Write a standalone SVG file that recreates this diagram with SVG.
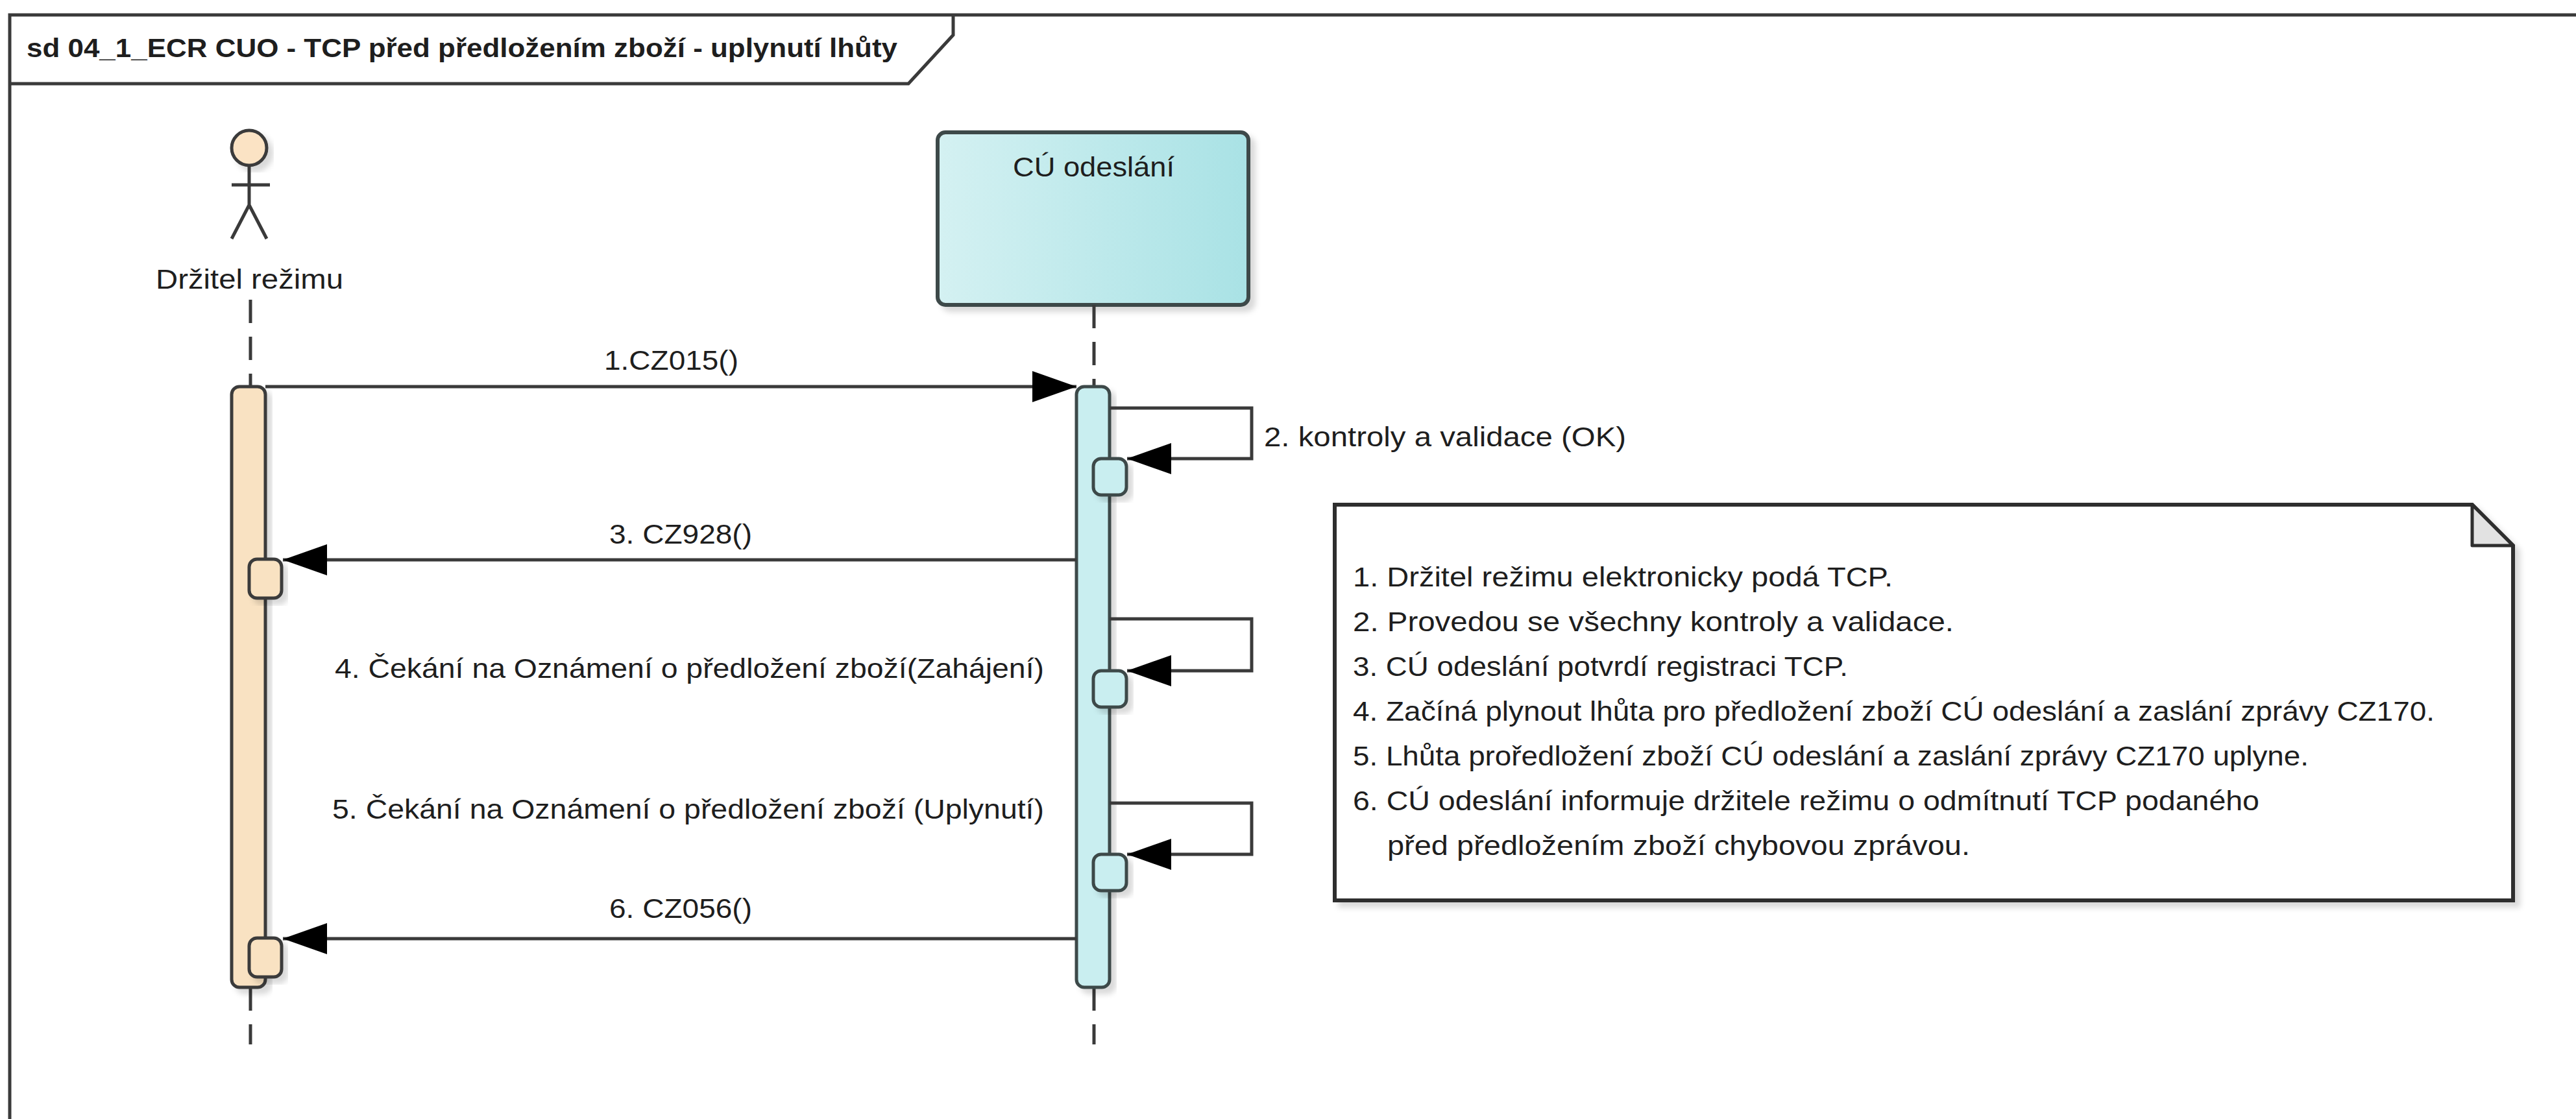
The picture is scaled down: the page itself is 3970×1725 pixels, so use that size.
<svg xmlns="http://www.w3.org/2000/svg" width="3970" height="1725" viewBox="0 0 3970 1725">
<style>
.t{font-family:"Liberation Sans",Arial,sans-serif;font-size:42px;fill:#1e1e1e}
.tb{font-family:"Liberation Sans",Arial,sans-serif;font-size:40px;font-weight:bold;fill:#1e1e1e}
.ln{stroke:#3a3a3a;stroke-width:5;fill:none}
.life{stroke:#3a3a3a;stroke-width:5;stroke-dasharray:36 21;fill:none}
.actf{fill:#F9E2C2;stroke:#3a3a3a;stroke-width:5}
.cuf{fill:#C9EEF0;stroke:#3e4a4a;stroke-width:5}
</style>
<defs>
<linearGradient id="cug" x1="0" y1="0" x2="1" y2="0">
<stop offset="0" stop-color="#D4F1F2"/>
<stop offset="1" stop-color="#A9E2E5"/>
</linearGradient>
<filter id="sh" x="-10%" y="-10%" width="130%" height="130%">
<feDropShadow dx="8" dy="8" stdDeviation="4" flood-color="#000" flood-opacity="0.15"/>
</filter>
<marker id="ah" markerUnits="userSpaceOnUse" markerWidth="70" markerHeight="50" refX="68" refY="24" orient="auto">
<path d="M0,0 L68,24 L0,48 z" fill="#000"/>
</marker>
</defs>
<rect width="3970" height="1725" fill="#fff"/>

<g id="frame">
<rect x="15" y="23" width="4000" height="1800" fill="none" stroke="#3a3a3a" stroke-width="5"/>
<path d="M15,129 L1400,129 L1469,54 L1469,23" class="ln" stroke-width="6"/>
<text class="tb" x="41" y="88" textLength="1342" lengthAdjust="spacingAndGlyphs">sd 04_1_ECR CUO - TCP před předložením zboží - uplynutí lhůty</text>
</g>

<g id="actor-drzitel">
<circle cx="384" cy="228" r="27" fill="#FBE3C4" stroke="#3a3a3a" stroke-width="5" filter="url(#sh)"/>
<path d="M384,255 V316 M357,285 H416 M357,368 L384,316 L411,368" class="ln" stroke-width="5"/>
<text class="t" x="240" y="445" textLength="289" lengthAdjust="spacingAndGlyphs">Držitel režimu</text>
<path d="M386,462 V596 M386,1522 V1610" class="life"/>
<rect x="357" y="596" width="52" height="926" rx="12" class="actf" filter="url(#sh)"/>
<rect x="384" y="862" width="50" height="60" rx="12" class="actf" filter="url(#sh)"/>
<rect x="384" y="1446" width="50" height="60" rx="12" class="actf" filter="url(#sh)"/>
</g>

<g id="lifeline-cu-odeslani">
<rect x="1445" y="204" width="479" height="266" rx="12" fill="url(#cug)" stroke="#3e4a4a" stroke-width="6" filter="url(#sh)"/>
<text class="t" x="1561" y="272" textLength="249" lengthAdjust="spacingAndGlyphs">CÚ odeslání</text>
<path d="M1686,470 V596 M1686,1522 V1610" class="life"/>
<rect x="1659" y="596" width="51" height="926" rx="12" class="cuf" filter="url(#sh)"/>
<rect x="1685" y="707" width="51" height="56" rx="12" class="cuf" filter="url(#sh)"/>
<rect x="1685" y="1034" width="51" height="56" rx="12" class="cuf" filter="url(#sh)"/>
<rect x="1685" y="1317" width="51" height="56" rx="12" class="cuf" filter="url(#sh)"/>
</g>

<g id="connectors">
<path d="M409,596 H1659" class="ln" marker-end="url(#ah)"/>
<text class="t" x="931" y="570" textLength="207" lengthAdjust="spacingAndGlyphs">1.CZ015()</text>
<path d="M1710,629 H1929 V707 H1737" class="ln" marker-end="url(#ah)"/>
<text class="t" x="1948" y="688" textLength="558" lengthAdjust="spacingAndGlyphs">2. kontroly a validace (OK)</text>
<path d="M1659,863 H436" class="ln" marker-end="url(#ah)"/>
<text class="t" x="939" y="838" textLength="220" lengthAdjust="spacingAndGlyphs">3. CZ928()</text>
<path d="M1710,954 H1929 V1034 H1737" class="ln" marker-end="url(#ah)"/>
<text class="t" x="516" y="1045" textLength="1093" lengthAdjust="spacingAndGlyphs">4. Čekání na Oznámení o předložení zboží(Zahájení)</text>
<path d="M1710,1238 H1929 V1317 H1737" class="ln" marker-end="url(#ah)"/>
<text class="t" x="512" y="1262" textLength="1097" lengthAdjust="spacingAndGlyphs">5. Čekání na Oznámení o předložení zboží (Uplynutí)</text>
<path d="M1659,1447 H436" class="ln" marker-end="url(#ah)"/>
<text class="t" x="939" y="1415" textLength="220" lengthAdjust="spacingAndGlyphs">6. CZ056()</text>
</g>

<g id="note">
<path d="M2057,778 H3810 L3873,841 V1388 H2057 Z" fill="#fff" stroke="#2e2e2e" stroke-width="6" filter="url(#sh)"/>
<path d="M3810,778 V841 H3873 Z" fill="#e2e2e2" stroke="#2e2e2e" stroke-width="5" stroke-linejoin="round"/>
<text class="t" x="2085" y="904" textLength="832" lengthAdjust="spacingAndGlyphs">1. Držitel režimu elektronicky podá TCP.</text>
<text class="t" x="2085" y="973" textLength="926" lengthAdjust="spacingAndGlyphs">2. Provedou se všechny kontroly a validace.</text>
<text class="t" x="2085" y="1042" textLength="763" lengthAdjust="spacingAndGlyphs">3. CÚ odeslání potvrdí registraci TCP.</text>
<text class="t" x="2085" y="1111" textLength="1667" lengthAdjust="spacingAndGlyphs">4. Začíná plynout lhůta pro předložení zboží CÚ odeslání a zaslání zprávy CZ170.</text>
<text class="t" x="2085" y="1180" textLength="1473" lengthAdjust="spacingAndGlyphs">5. Lhůta proředložení zboží CÚ odeslání a zaslání zprávy CZ170 uplyne.</text>
<text class="t" x="2085" y="1249" textLength="1397" lengthAdjust="spacingAndGlyphs">6. CÚ odeslání informuje držitele režimu o odmítnutí TCP podaného</text>
<text class="t" x="2138" y="1318" textLength="898" lengthAdjust="spacingAndGlyphs">před předložením zboží chybovou zprávou.</text>
</g>
</svg>
